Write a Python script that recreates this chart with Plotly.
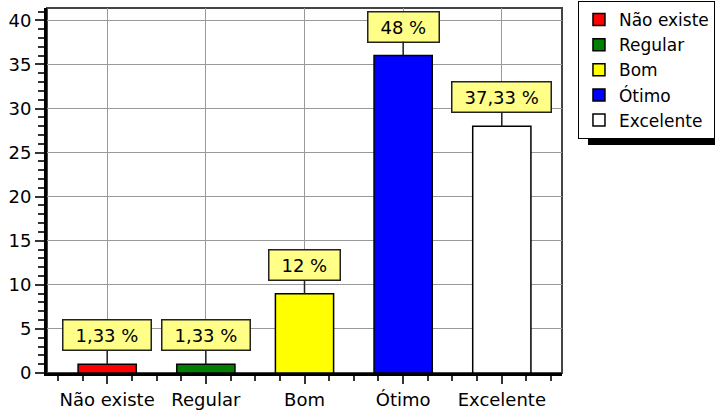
import plotly.graph_objects as go

categorias = ['Não existe', 'Regular', 'Bom', 'Ótimo', 'Excelente']
valores = [1, 1, 9, 36, 28]
cores = ['#FF0000', '#007F00', '#FFFF00', '#0000FF', '#FFFFFF']

total = sum(valores)
rotulos = []
for v in valores:
    p = round(v / total * 100, 2)
    txt = ('%.2f' % p).rstrip('0').rstrip('.').replace('.', ',')
    rotulos.append(txt + ' %')

FONTE = 'DejaVu Sans'
TAM = 18

# largura aproximada do texto em DejaVu Sans (em unidades de em)
larg_char = {',': 0.318, ' ': 0.318, '%': 0.95}

def largura_texto(s):
    return sum(larg_char.get(c, 0.636) for c in s) * TAM

fig = go.Figure()

for i, cat in enumerate(categorias):
    fig.add_trace(go.Bar(
        x=[i], y=[valores[i]],
        name=cat,
        width=0.59,
        marker=dict(color=cores[i], line=dict(color='black', width=1.5)),
    ))

# Rótulos com caixa amarela e linha até a barra
for i, v in enumerate(valores):
    fig.add_annotation(
        x=i, y=v, text=rotulos[i],
        showarrow=True, arrowhead=0, arrowwidth=1.5, arrowcolor='#222',
        ax=0, ay=-29,
        width=largura_texto(rotulos[i]) + 18, height=23,
        bgcolor='#FFFF88', bordercolor='#222', borderwidth=1.5, borderpad=3,
        font=dict(size=TAM, color='black'),
    )

# borda superior/direita
fig.add_shape(type='rect', xref='paper', yref='paper', x0=0, x1=1, y0=0, y1=1,
              line=dict(color='#444', width=2), layer='below')

# sombra da legenda
fig.add_shape(type='rect', xref='paper', yref='paper',
              x0=1.0505, x1=1.32, y0=0.6247, y1=0.997,
              fillcolor='black', line=dict(width=0))

fig.update_layout(
    width=715, height=410,
    margin=dict(l=47, r=153, t=8, b=37, autoexpand=False),
    barmode='overlay',
    plot_bgcolor='white', paper_bgcolor='white',
    font=dict(family=FONTE, size=TAM, color='black'),
    xaxis=dict(
        range=[-0.61, 4.61],
        tickvals=list(range(len(categorias))),
        ticktext=categorias,
        ticks='outside', ticklen=8, tickwidth=1.5, tickcolor='#333',
        showgrid=True, gridcolor='#999', gridwidth=1,
        showline=True, linecolor='black', linewidth=3,
        zeroline=False,
        minor=dict(tick0=0, dtick=0.25, ticks='outside', ticklen=5,
                   tickwidth=1.5, tickcolor='#333', showgrid=False),
    ),
    yaxis=dict(
        range=[0, 41.4],
        dtick=5,
        ticks='outside', ticklen=9, tickwidth=1.5, tickcolor='#333',
        showgrid=True, gridcolor='#999', gridwidth=1,
        showline=True, linecolor='black', linewidth=3,
        zeroline=False,
        minor=dict(dtick=1, ticks='outside', ticklen=6,
                   tickwidth=1.5, tickcolor='#333', showgrid=False),
    ),
    legend=dict(
        x=1.031, y=1.019, xanchor='left', yanchor='top',
        bgcolor='white', bordercolor='black', borderwidth=1,
        font=dict(size=17), tracegroupgap=0,
    ),
    showlegend=True,
)

# sem margem do body, para a figura começar no canto
fig.write_html("out.html", config={'displayModeBar': False},
               post_script="document.body.style.margin='0';")
